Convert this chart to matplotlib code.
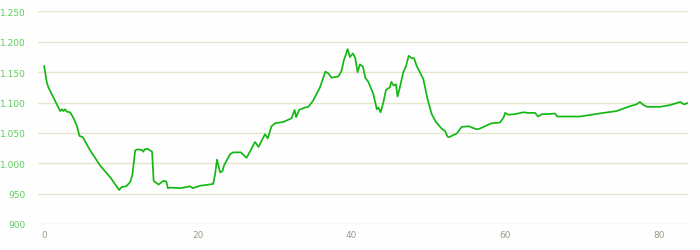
import matplotlib
matplotlib.use("Agg")
import matplotlib.pyplot as plt
from matplotlib.ticker import FuncFormatter

# distance (km) and elevation (m)
distance = [
    0.0, 0.35, 0.56, 1.3, 2.08, 2.3, 2.5, 2.73, 2.95, 3.38, 3.8, 4.25, 4.6, 5.03,
    6.0, 7.3, 8.6, 9.76, 10.1, 10.67, 11.2, 11.5, 11.84, 12.15, 12.7, 12.9, 13.1,
    13.45, 13.8, 14.05, 14.25, 14.45, 14.9, 15.5, 15.9, 16.1, 16.4, 17.7, 19.0,
    19.35, 20.3, 20.95, 22.0, 22.25, 22.5, 22.9, 23.2, 23.4, 24.2, 24.6, 25.6,
    26.35, 27.45, 27.9, 28.75, 29.1, 29.6, 30.06, 31.1, 32.2, 32.6, 32.8, 33.2,
    34.0, 34.4, 35.0, 35.9, 36.6, 37.0, 37.4, 38.3, 38.7, 39.0, 39.5, 39.8, 40.2,
    40.5, 40.8, 41.1, 41.5, 41.8, 42.2, 42.85, 43.3, 43.5, 43.8, 44.15, 44.5,
    45.0, 45.2, 45.5, 45.8, 46.0, 46.3, 46.75, 47.1, 47.45, 47.85, 48.15, 48.5,
    48.9, 49.35, 49.9, 50.45, 51.0, 51.75, 52.2, 52.5, 52.7, 53.7, 54.35, 55.3,
    55.65, 56.3, 56.7, 57.2, 58.25, 59.3, 59.8, 60.0, 60.4, 61.3, 62.4, 63.0,
    63.9, 64.3, 64.8, 65.6, 66.5, 66.8, 67.6, 69.7, 72.8, 74.5, 76.25, 77.1,
    77.55, 78.0, 78.5, 80.2, 81.5, 82.3, 82.8, 83.3, 83.7,
]
elevation = [
    1160, 1133, 1125, 1106, 1086, 1089, 1086, 1089, 1085, 1084, 1075, 1062, 1045, 1043,
    1021, 996, 977, 956, 961, 962, 969, 982, 1021, 1023, 1022, 1019, 1023,
    1024, 1021, 1019, 971, 969, 965, 971, 970, 959, 960, 959, 962,
    959, 963, 964, 966, 982, 1006, 985, 987, 996, 1015, 1018, 1018,
    1009, 1035, 1027, 1048, 1041, 1061, 1066, 1068, 1074, 1088, 1076, 1088,
    1092, 1093, 1103, 1125, 1151, 1148, 1141, 1143, 1152, 1169, 1188, 1175, 1181,
    1173, 1150, 1163, 1159, 1141, 1134, 1114, 1089, 1092, 1084, 1100, 1121,
    1125, 1134, 1128, 1130, 1110, 1125, 1150, 1160, 1177, 1173, 1173, 1160,
    1150, 1139, 1106, 1081, 1068, 1057, 1053, 1044, 1043, 1049, 1060, 1061,
    1059, 1056, 1057, 1060, 1066, 1067, 1075, 1083, 1080, 1081, 1084, 1083,
    1083, 1077, 1081, 1081, 1082, 1077, 1077, 1077, 1083, 1086, 1094, 1097,
    1101, 1096, 1093, 1093, 1096, 1099, 1101, 1097, 1099,
]
y_ticks = [900, 950, 1000, 1050, 1100, 1150, 1200, 1250]
x_ticks = [0, 20, 40, 60, 80]

fig = plt.figure(figsize=(7.0, 2.51), dpi=100)
fig.patch.set_facecolor("#fefefe")
ax = fig.add_axes([0.0543, 0.1036, 0.9279, 0.8466])
ax.set_facecolor("#fefefe")

ax.plot(distance, elevation, color="#14b814", linewidth=1.25, zorder=3)

ax.set_xlim(-0.8, 83.75)
ax.set_ylim(900, 1250)
ax.set_yticks(y_ticks)
ax.set_xticks(x_ticks)
ax.yaxis.set_major_formatter(FuncFormatter(lambda v, p: f"{v:,.0f}".replace(",", ".")))

for v in y_ticks:
    ax.axhline(v, color="#e6e4cc" if v != 900 else "#dcdbcc", linewidth=1.0, zorder=1)

for s in ax.spines.values():
    s.set_visible(False)
ax.tick_params(axis="both", length=0, labelsize=6.5)
ax.tick_params(axis="y", colors="#5ccc5c", pad=9)
ax.tick_params(axis="x", colors="#a09a88", pad=4)

fig.savefig("out.png", dpi=100, facecolor=fig.get_facecolor())
